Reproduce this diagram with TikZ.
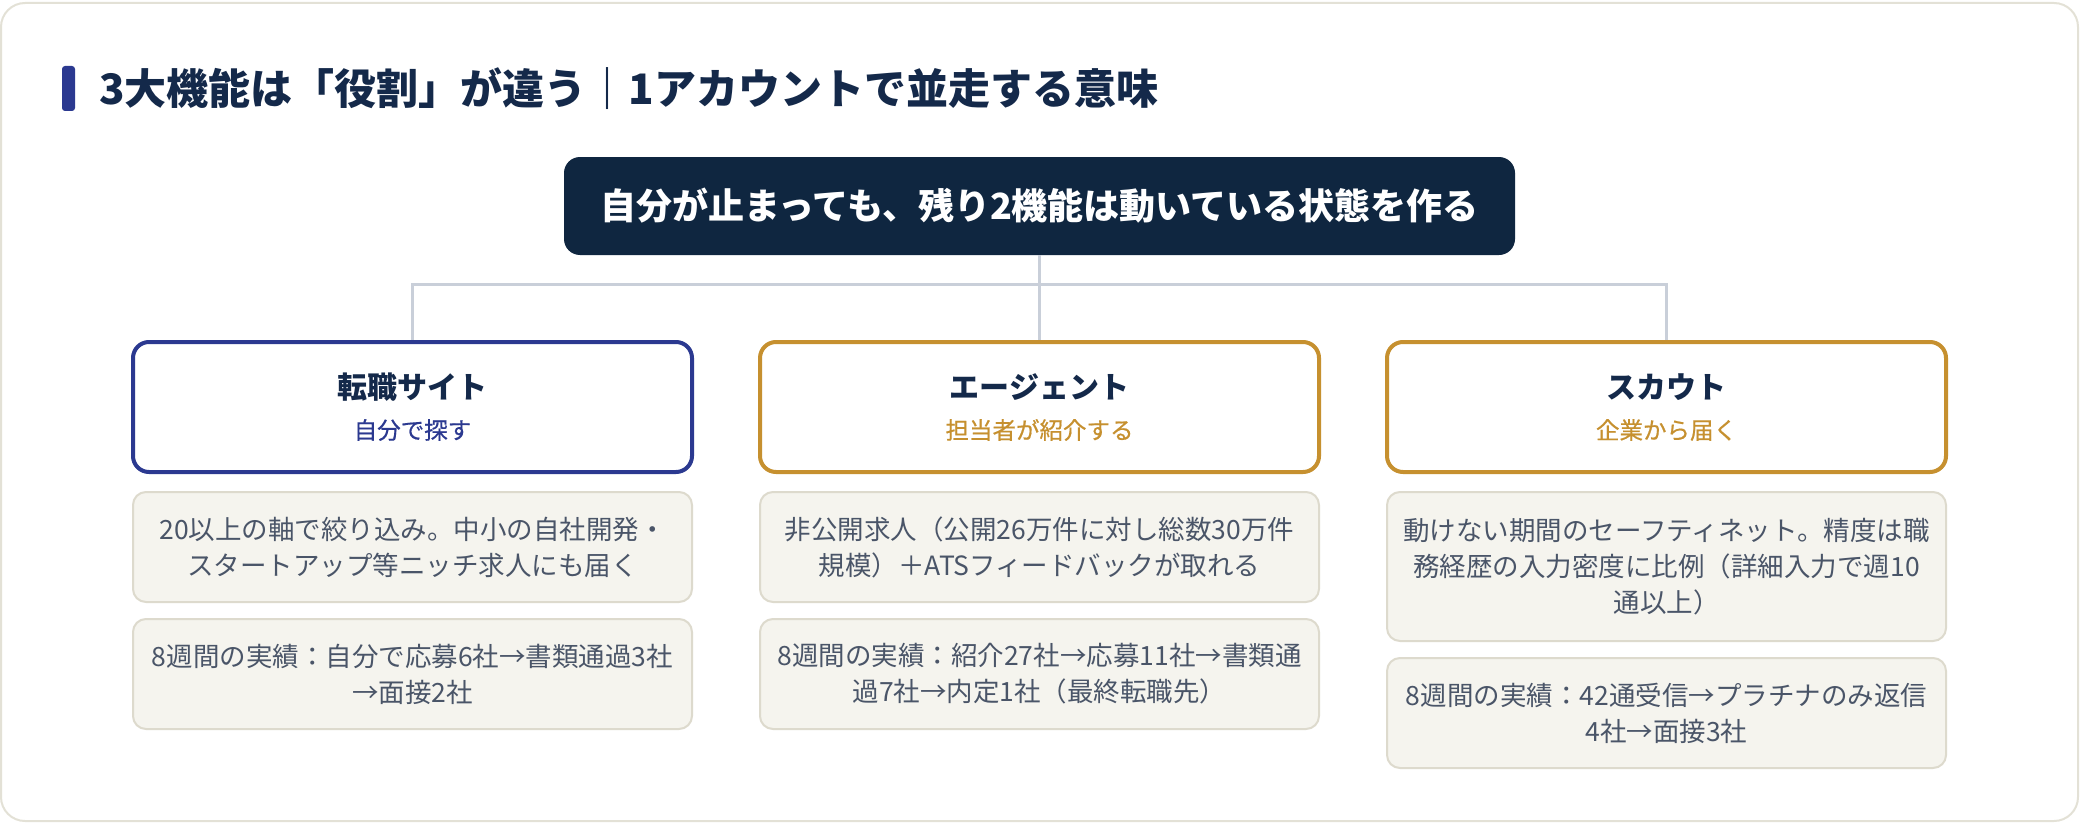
\documentclass[tikz,border=0pt]{standalone}
\usepackage{fontspec}
\setmainfont{Noto Sans CJK JP}
\newfontfamily\jpmedium{Noto Sans CJK JP}[FakeBold=0.6]
\usetikzlibrary{positioning}
\definecolor{navy}{HTML}{0F2640}
\definecolor{ink}{HTML}{14294A}
\definecolor{indigo}{HTML}{2B3990}
\definecolor{gold}{HTML}{C6902F}
\definecolor{slate}{HTML}{4A5568}
\definecolor{paper}{HTML}{F5F4EE}
\definecolor{paperline}{HTML}{DDDACD}
\definecolor{wire}{HTML}{C9CFD9}
\definecolor{cardline}{HTML}{E3E1D6}
\tikzset{role/.style = {draw,line width=2pt,rounded corners=8pt,fill=white,minimum width=279.5pt,minimum height=65pt},
         fact/.style = {draw=paperline,line width=1pt,fill=paper,rounded corners=6.5pt,minimum width=279.5pt,minimum height=55pt,
                        align=center,text=slate,font=\fontsize{13.25pt}{18pt}\selectfont},
         rolename/.style = {text=ink,font=\fontsize{15pt}{18pt}\selectfont\bfseries},
         rolesub/.style = {font=\jpmedium\fontsize{11.75pt}{14pt}\selectfont},
         wire/.style = {draw=wire,line width=1.5pt}}

\begin{document}
\begin{tikzpicture}[x=0.5pt,y=0.5pt]
    \useasboundingbox (0,0) rectangle (2080,-824);
    \draw[cardline,line width=1pt,fill=white,rounded corners=12pt] (1,-3) rectangle (2078,-821);
    % heading
    \node[fill=indigo,inner sep=0,minimum width=6.5pt,minimum height=22.5pt,rounded corners=1.5pt] (bar) at (68.5,-88.5) {};
    \node[anchor=west,inner sep=0,text=ink,font=\fontsize{21pt}{24pt}\selectfont\bfseries] (head) at (99,-89)
        {3大機能は「役割」が違う｜1アカウントで並走する意味};
    \node[fill=navy,rounded corners=8pt,minimum width=475.5pt,minimum height=49pt,text=white,
          font=\fontsize{18pt}{20pt}\selectfont\bfseries] (hub) at (1039.5,-206)
        {自分が止まっても、残り2機能は動いている状態を作る};
    % the three roles
    \foreach \c/\x/\col/\name/\sub in {site/412.5/indigo/転職サイト/自分で探す,
                                      agent/1039.5/gold/エージェント/担当者が紹介する,
                                      scout/1666.5/gold/スカウト/企業から届く}{
        \node[role,draw=\col] (\c) at (\x,-407) {};
        \node[rolename] (\c-name) at ([yshift=-23.5pt]\c.north) {\name};
        \node[rolesub,text=\col] (\c-sub) at ([yshift=-45pt]\c.north) {\sub};
        \draw[wire] (hub.south) -- ++(0,-29) -| (\c.north);
    }
    \node[fact,below=8.5pt of site] (site1) {20以上の軸で絞り込み。中小の自社開発・\\スタートアップ等ニッチ求人にも届く};
    \node[fact,below=7.5pt of site1] (site2) {8週間の実績：自分で応募6社→書類通過3社\\→面接2社};
    \node[fact,below=8.5pt of agent] (agent1) {非公開求人（公開26万件に対し総数30万件\\規模）＋ATSフィードバックが取れる};
    \node[fact,below=7.5pt of agent1] (agent2) {8週間の実績：紹介27社→応募11社→書類通\\過7社→内定1社（最終転職先）};
    \node[fact,below=8.5pt of scout,minimum height=74.5pt] (scout1)
        {動けない期間のセーフティネット。精度は職\\務経歴の入力密度に比例（詳細入力で週10\\通以上）};
    \node[fact,below=7.5pt of scout1] (scout2) {8週間の実績：42通受信→プラチナのみ返信\\4社→面接3社};
\end{tikzpicture}
\end{document}
